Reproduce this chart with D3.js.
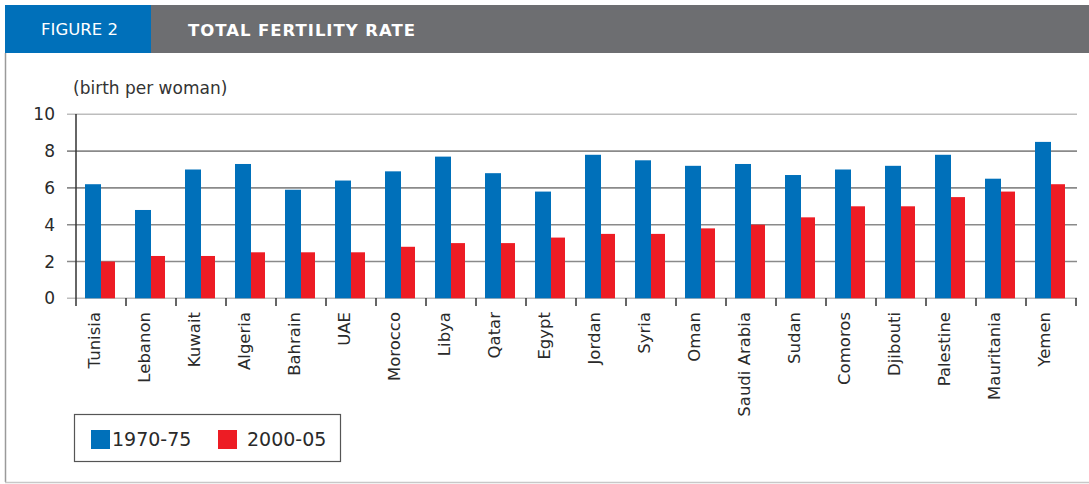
<!DOCTYPE html>
<html><head><meta charset="utf-8">
<script src="https://cdn.jsdelivr.net/npm/d3@7"></script>
<style>body{margin:0;background:#fff}svg{display:block}</style>
</head><body><svg id="c" width="1089" height="484"></svg>
<script>
const categories = ["Tunisia","Lebanon","Kuwait","Algeria","Bahrain","UAE","Morocco","Libya","Qatar","Egypt","Jordan","Syria","Oman","Saudi Arabia","Sudan","Comoros","Djibouti","Palestine","Mauritania","Yemen"];
const series1970 = [6.2,4.8,7.0,7.3,5.9,6.4,6.9,7.7,6.8,5.8,7.8,7.5,7.2,7.3,6.7,7.0,7.2,7.8,6.5,8.5];
const series2000 = [2.0,2.3,2.3,2.5,2.5,2.5,2.8,3.0,3.0,3.3,3.5,3.5,3.8,4.0,4.4,5.0,5.0,5.5,5.8,6.2];
const seriesNames = ["1970-75","2000-05"];
const yTicks = [0,2,4,6,8,10];

const BLUE="#0070BA", RED="#ED1C24", font="'DejaVu Sans', sans-serif";
const svg = d3.select("#c");

// header
svg.append("rect").attr("x",5).attr("y",5).attr("width",1084).attr("height",48).attr("fill","#6D6E71");
svg.append("rect").attr("x",5).attr("y",5).attr("width",146).attr("height",48).attr("fill",BLUE);
svg.append("text").attr("x",41).attr("y",35).attr("fill","#fff").attr("font-family",font).attr("font-size",16.5).attr("textLength",77).text("FIGURE 2");
svg.append("text").attr("x",188).attr("y",35.5).attr("fill","#fff").attr("font-family",font).attr("font-weight","bold").attr("font-size",16.5).attr("textLength",227).text("TOTAL FERTILITY RATE");
// frame
svg.append("line").attr("x1",5.5).attr("x2",5.5).attr("y1",53).attr("y2",482).attr("stroke","#9a9a9a").attr("stroke-width",1.5);
svg.append("line").attr("x1",5).attr("x2",1089).attr("y1",482.5).attr("y2",482.5).attr("stroke","#c8c8c8").attr("stroke-width",1.5);

const x = d3.scaleBand().domain(categories).range([76,1076]);
const y = d3.scaleLinear().domain([0,10]).range([298.3,114.3]);

// grid
svg.append("g").selectAll("line").data(yTicks).join("line")
  .attr("x1",67).attr("x2",1077).attr("y1",d=>y(d)).attr("y2",d=>y(d))
  .attr("stroke",d=>(d===0||d===10)?"#bdbdbd":"#8a8a8a").attr("stroke-width",1.6);
// y labels
svg.append("g").selectAll("text").data(yTicks).join("text")
  .attr("x",55).attr("y",d=>y(d)+6).attr("text-anchor","end").attr("fill","#2a2a2a")
  .attr("font-family",font).attr("font-size",17).text(d=>d);
svg.append("text").attr("x",73).attr("y",94).attr("fill","#333").attr("font-family",font).attr("font-size",17).text("(birth per woman)");

// bars
const g = svg.append("g");
g.selectAll("rect.b").data(categories).join("rect").attr("class","b")
  .attr("x",d=>x(d)+9).attr("width",16).attr("y",(d,i)=>y(series1970[i])).attr("height",(d,i)=>y(0)-y(series1970[i])).attr("fill",BLUE);
g.selectAll("rect.r").data(categories).join("rect").attr("class","r")
  .attr("x",d=>x(d)+25).attr("width",14).attr("y",(d,i)=>y(series2000[i])).attr("height",(d,i)=>y(0)-y(series2000[i])).attr("fill",RED);

// y axis line
svg.append("line").attr("x1",76).attr("x2",76).attr("y1",114).attr("y2",306).attr("stroke","#333").attr("stroke-width",1.5);
// category ticks
const bounds = categories.map(d=>x(d)).concat([x.range()[1]]);
svg.append("g").selectAll("line").data(bounds.slice(1)).join("line")
  .attr("x1",d=>d).attr("x2",d=>d).attr("y1",298).attr("y2",306).attr("stroke","#333").attr("stroke-width",1.5);
// x labels
svg.append("g").selectAll("text").data(categories).join("text")
  .attr("transform",d=>`translate(${x(d)+24},312) rotate(-90)`).attr("text-anchor","end")
  .attr("fill","#2a2a2a").attr("font-family",font).attr("font-size",16.5).text(d=>d);

// legend
svg.append("rect").attr("x",74.5).attr("y",414.5).attr("width",266).attr("height",47).attr("fill","none").attr("stroke","#555").attr("stroke-width",1.2);
const lx=[91,218], tx=[112,247], cols=[BLUE,RED];
seriesNames.forEach((n,i)=>{
  svg.append("rect").attr("x",lx[i]).attr("y",430).attr("width",19).attr("height",19).attr("fill",cols[i]);
  svg.append("text").attr("x",tx[i]).attr("y",446).attr("fill","#2a2a2a").attr("font-family",font).attr("font-size",19).text(n);
});
</script></body></html>
